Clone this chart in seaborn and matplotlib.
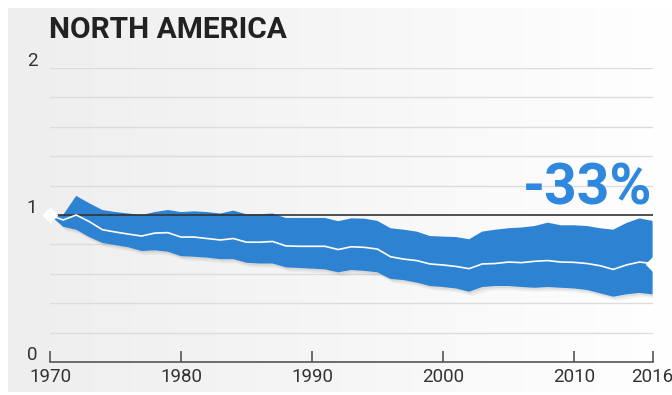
import numpy as np
import pandas as pd
import matplotlib
matplotlib.use("Agg")
import matplotlib.pyplot as plt
import matplotlib.patheffects as pe
from matplotlib.transforms import blended_transform_factory
import seaborn as sns

years = list(range(1970, 2017))
index_mid = [1.00, 0.966, 1.00, 0.955, 0.90, 0.884, 0.87, 0.857, 0.877, 0.88,
             0.85, 0.85, 0.84, 0.83, 0.84, 0.815, 0.815, 0.82, 0.79, 0.787,
             0.787, 0.787, 0.765, 0.784, 0.78, 0.768, 0.716, 0.70, 0.69, 0.667,
             0.66, 0.65, 0.635, 0.667, 0.67, 0.68, 0.676, 0.685, 0.69, 0.68,
             0.678, 0.67, 0.655, 0.63, 0.66, 0.68, 0.67]
index_upper = [1.00, 1.00, 1.13, 1.08, 1.034, 1.02, 1.01, 1.00, 1.02, 1.034,
               1.02, 1.025, 1.02, 1.01, 1.03, 1.005, 1.005, 1.01, 0.98, 0.98,
               0.98, 0.98, 0.958, 0.977, 0.975, 0.96, 0.91, 0.90, 0.887, 0.857,
               0.853, 0.85, 0.835, 0.887, 0.90, 0.91, 0.915, 0.925, 0.948, 0.93,
               0.93, 0.925, 0.91, 0.90, 0.945, 0.977, 0.96]
index_lower = [1.00, 0.92, 0.90, 0.85, 0.81, 0.795, 0.78, 0.755, 0.76, 0.75,
               0.72, 0.716, 0.71, 0.70, 0.70, 0.675, 0.67, 0.67, 0.644, 0.64,
               0.635, 0.63, 0.61, 0.626, 0.62, 0.61, 0.565, 0.557, 0.54, 0.517,
               0.51, 0.50, 0.478, 0.51, 0.517, 0.517, 0.51, 0.505, 0.51, 0.505,
               0.50, 0.49, 0.467, 0.444, 0.46, 0.47, 0.46]
x_ticks = [1970, 1980, 1990, 2000, 2010, 2016]
y_labels = [0, 1, 2]
title = "NORTH AMERICA"
change_label = "-33%"

df = pd.DataFrame({"year": years, "mid": index_mid,
                   "upper": index_upper, "lower": index_lower})

sns.set_theme(style="white")
plt.rcParams["font.family"] = ["Roboto", "DejaVu Sans"]

W, H = 672, 395
fig = plt.figure(figsize=(W / 100, H / 100), dpi=100)
fig.patch.set_facecolor("white")

# background gradient panel
bg = fig.add_axes([8 / W, 3 / H, (W - 8) / W, (H - 11) / H], zorder=-10)
grad = np.linspace(0, 1, 256)[None, :]
cmap = matplotlib.colors.LinearSegmentedColormap.from_list(
    "bg", ["#eeeeee", "#f6f6f6", "#ffffff"])
bg.imshow(grad, aspect="auto", cmap=cmap, extent=[0, 1, 0, 1])
bg.set_axis_off()

left, right = 50 / W, 652.5 / W
bottom, top = (H - 362) / H, (H - 68) / H
ax = fig.add_axes([left, bottom, right - left, top - bottom])
ax.patch.set_alpha(0)

blue = "#2d83d2"
# grid lines
for gy in np.arange(0.2, 2.01, 0.2):
    if abs(gy - 1) < 1e-6:
        continue
    ax.axhline(gy, color="#dcdcdc", lw=1.0, zorder=1)

band = ax.fill_between(df["year"], df["lower"], df["upper"], color=blue,
                       lw=0, zorder=2)
band.set_path_effects([
    pe.SimplePatchShadow(offset=(2.5, -3), shadow_rgbFace="#000000", alpha=0.05),
    pe.SimplePatchShadow(offset=(1.2, -1.5), shadow_rgbFace="#000000", alpha=0.07),
    pe.Normal()])
ax.axhline(1.0, color="#333333", lw=1.2, zorder=3)
sns.lineplot(data=df, x="year", y="mid", color="white", lw=1.2, ax=ax, zorder=4)
ax.plot([years[0], years[-1]], [index_mid[0], index_mid[-1]], ls="none",
        marker="D", ms=7, mfc="white", mec="white", zorder=5, clip_on=False)

ax.set_xlim(1970, 2016)
ax.set_ylim(0, 2)
ax.set_xlabel("")
ax.set_ylabel("")
for s in ["top", "right", "left"]:
    ax.spines[s].set_visible(False)
ax.spines["bottom"].set_color("#555555")
ax.spines["bottom"].set_linewidth(1.2)
ax.set_xticks(x_ticks)
ax.set_xticklabels([str(t) for t in x_ticks])
ax.tick_params(axis="x", direction="in", length=8, width=1.2, color="#555555",
               labelsize=13.5, labelcolor="#333333", pad=4, bottom=True)
ax.set_yticks([])

tr = blended_transform_factory(fig.transFigure, ax.transData)
for v in y_labels:
    ax.text(32 / W, v + 0.045, str(v), transform=tr, ha="center", va="center",
            fontsize=13.5, color="#333333")

fig.text(49 / W, 1 - 30 / H, title, ha="left", va="center", fontsize=21.5,
         fontweight="bold", color="#222222")
ax.text(2016, 1.18, change_label, ha="right", va="center", fontsize=41,
        fontweight="bold", color="#2f88de", zorder=6)

fig.savefig("out.png", dpi=100)
